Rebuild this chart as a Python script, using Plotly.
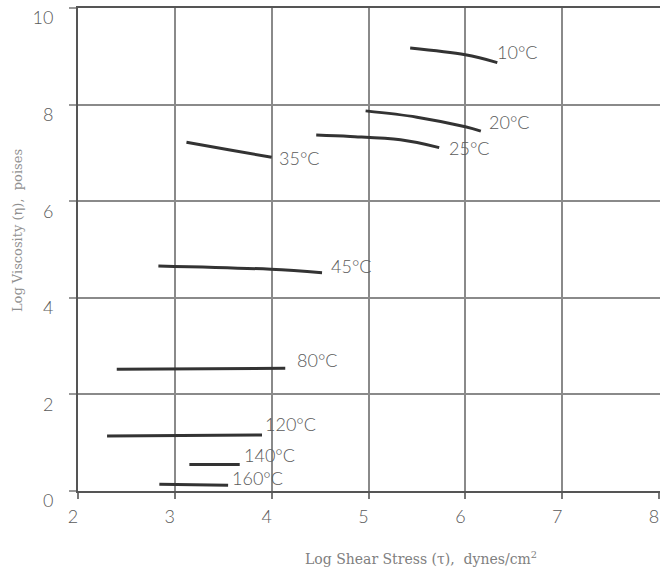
import plotly.graph_objects as go

# Data (log shear stress, log viscosity)
temps = ["10°C", "20°C", "25°C", "35°C", "45°C", "80°C", "120°C", "140°C", "160°C"]
x_10 = [5.43, 6.00, 6.33]
y_10 = [9.17, 9.03, 8.87]
x_20 = [4.97, 5.50, 6.00, 6.16]
y_20 = [7.87, 7.74, 7.54, 7.45]
x_25 = [4.46, 4.81, 5.33, 5.73]
y_25 = [7.37, 7.34, 7.27, 7.11]
x_35 = [3.12, 3.57, 4.00]
y_35 = [7.22, 7.06, 6.91]
x_45 = [2.83, 3.99, 4.52]
y_45 = [4.66, 4.59, 4.52]
x_80 = [2.40, 4.14]
y_80 = [2.52, 2.54]
x_120 = [2.30, 3.90]
y_120 = [1.14, 1.16]
x_140 = [3.15, 3.67]
y_140 = [0.55, 0.55]
x_160 = [2.84, 3.55]
y_160 = [0.14, 0.12]

series_x = [x_10, x_20, x_25, x_35, x_45, x_80, x_120, x_140, x_160]
series_y = [y_10, y_20, y_25, y_35, y_45, y_80, y_120, y_140, y_160]

label_x = [6.31, 6.22, 5.81, 4.05, 4.59, 4.24, 3.91, 3.69, 3.57]
label_y = [9.08, 7.65, 7.10, 6.90, 4.66, 2.71, 1.39, 0.74, 0.26]

x_ticks = [2, 3, 4, 5, 6, 7, 8]
y_ticks = [0, 2, 4, 6, 8, 10]

fig = go.Figure()
for xs, ys, name in zip(series_x, series_y, temps):
    fig.add_trace(go.Scatter(x=xs, y=ys, mode="lines", name=name,
                             line=dict(color="#333333", width=3, shape="spline"),
                             showlegend=False))

for t, lx, ly in zip(temps, label_x, label_y):
    fig.add_annotation(x=lx, y=ly, text=t, showarrow=False, xanchor="left",
                       yanchor="middle",
                       font=dict(family="Lato, DejaVu Sans", size=18, color="#5a5a5a", weight=300))

fig.add_annotation(xref="paper", yref="paper", x=0.59, y=-0.139,
                   text="Log Shear Stress (τ),  dynes/cm<sup>2</sup>",
                   showarrow=False, xanchor="center", yanchor="middle",
                   font=dict(family="DejaVu Serif, Liberation Serif", size=14, color="#808080"))
fig.add_annotation(xref="paper", yref="paper", x=-0.105, y=0.54,
                   text="Log Viscosity (η),  poises",
                   showarrow=False, textangle=-90, xanchor="center", yanchor="middle",
                   font=dict(family="DejaVu Serif, Liberation Serif", size=13, color="#909090"))

fig.update_xaxes(range=[2, 8.01], tickvals=x_ticks, showgrid=True, gridcolor="#8a8a8a", gridwidth=1.5,
                 showline=True, linecolor="#555555", linewidth=2, mirror=True,
                 ticks="outside", ticklen=6, tickcolor="#777777", tickwidth=1.5,
                 ticklabelshift=-5, ticklabelstandoff=2,
                 tickfont=dict(family="Lato, DejaVu Sans", size=18, color="#5a5a5a", weight=300),
                 zeroline=False)
fig.update_yaxes(range=[0, 10], tickvals=y_ticks, showgrid=True, gridcolor="#8a8a8a", gridwidth=1.5,
                 showline=True, linecolor="#555555", linewidth=2, mirror=False,
                 ticks="outside", ticklen=7, tickcolor="#999999", tickwidth=1.5,
                 ticklabelshift=10, ticklabelstandoff=12,
                 tickfont=dict(family="Lato, DejaVu Sans", size=18, color="#5a5a5a", weight=300),
                 zeroline=False)

fig.update_layout(width=660, height=571, margin=dict(l=78, r=0, t=8, b=80),
                  paper_bgcolor="white", plot_bgcolor="white")

fig.write_html("out.html")
